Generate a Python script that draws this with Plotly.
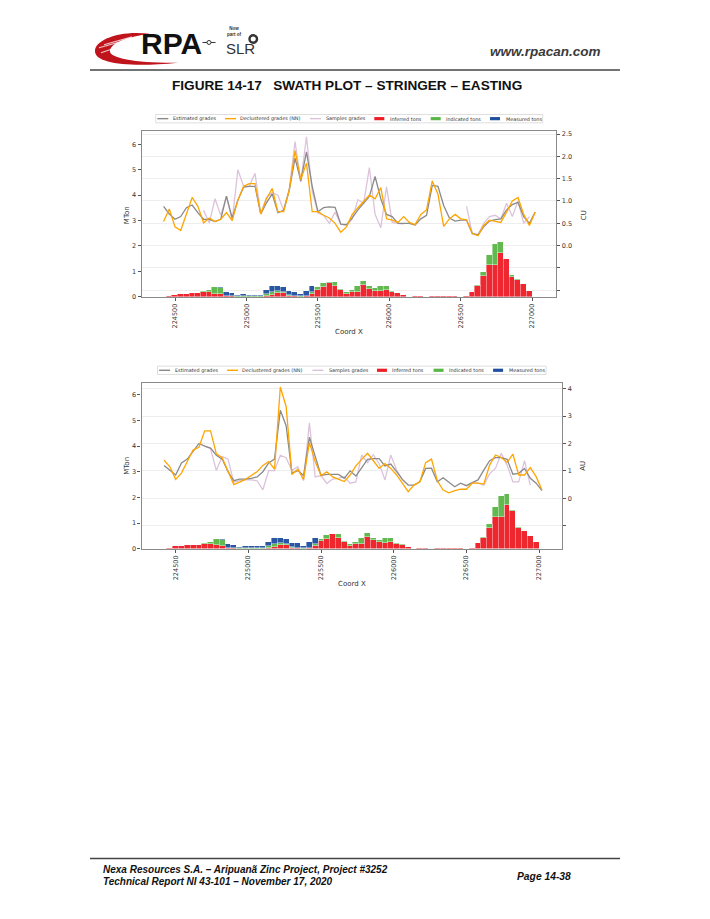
import plotly.graph_objects as go

W, H = 710, 919

# ── data ──────────────────────────────────────────────────────────────────────
coord_x = [224420, 224460, 224500, 224540, 224580, 224620, 224660, 224700, 224740, 224780,
           224820, 224860, 224900, 224940, 224980, 225020, 225060, 225100, 225140, 225180,
           225220, 225260, 225300, 225340, 225380, 225420, 225460, 225500, 225540, 225580,
           225620, 225660, 225700, 225740, 225780, 225820, 225860, 225900, 225940, 225980,
           226020, 226060, 226100, 226140, 226180, 226220, 226260, 226300, 226340, 226380,
           226420, 226460, 226500, 226540, 226580, 226620, 226660, 226700, 226740, 226780,
           226820, 226860, 226900, 226940, 226980, 227020]

inferred_t = [0, .05, .09, .12, .13, .14, .16, .18, .18, .13,
              .12, .02, .02, .01, .01, .01, .01, .01, .04, .08,
              .16, .15, .03, .02, .01, .03, .12, .29, .40, .56,
              .42, .28, .10, .18, .20, .45, .33, .25, .24, .28,
              .18, .14, .06, 0, .02, .02, 0, .03, .03, .03,
              .03, .02, .01, .05, .21, .43, .81, 1.24, 1.25, 1.72,
              1.47, .80, .68, .50, .25, 0]
indicated_t = [0, 0, 0, 0, 0, 0, 0, .04, .10, .25,
               .22, .03, .02, .02, .01, .01, .01, .01, .06, .10,
               .06, .05, .03, .01, .01, .02, .08, .09, .15, .02,
               .16, .03, .10, .10, .23, .17, .08, .11, .18, .15,
               .06, .03, 0, 0, 0, 0, 0, 0, 0, 0,
               0, 0, 0, 0, 0, .03, .17, .41, .82, .43,
               .03, .05, .01, 0, 0, 0]
measured_t = [0, 0, 0, 0, 0, 0, 0, 0, 0, 0,
              .06, .13, .12, .04, .08, .07, .07, .07, .16, .26,
              .20, .19, .18, .18, .10, .20, .22, 0, 0, 0,
              0, 0, 0, 0, 0, 0, 0, 0, 0, 0,
              0, 0, 0, 0, 0, 0, 0, 0, 0, 0,
              0, 0, 0, 0, 0, 0, 0, 0, 0, 0,
              0, 0, 0, 0, 0, 0]

# CU grades (top chart)
est_cu = [.88, .71, .59, .65, .85, .91, .74, .59, .59, .54,
          .59, 1.11, .62, 1.02, 1.31, 1.33, 1.33, .71, .96, 1.16,
          .74, .79, 1.25, 1.96, 1.45, 2.10, 1.33, .76, .85, .87,
          .86, .48, .47, .62, .80, .95, 1.10, 1.55, 1.05, .70,
          .65, .50, .50, .50, .46, .60, .68, 1.35, 1.33, .90,
          .62, .55, .57, .57, .27, .24, .42, .55, .58, .60,
          .80, .92, .97, .65, .50, .75]
decl_cu = [.54, .82, .42, .34, .71, 1.08, .88, .51, .62, .54,
           .59, .74, .56, 1.02, 1.33, 1.39, 1.39, .71, 1.05, 1.28,
           .76, .76, 1.25, 2.13, 1.48, 1.85, .76, .76, .68, .62,
           .50, .30, .42, .70, .85, 1.00, 1.13, 1.05, 1.30, .60,
           .57, .52, .65, .52, .47, .70, .80, 1.45, 1.15, .43,
           .60, .70, .60, .58, .27, .22, .45, .57, .55, .52,
           .75, 1.00, 1.08, .70, .45, .75]
samp_cu = [None, None, None, None, None, None, None, .79, .51, 1.05,
           .68, 1.11, .56, 1.70, 1.33, 1.33, 1.62, .71, 1.08, 1.19,
           1.13, .79, 1.28, 2.33, 1.42, 2.44, 1.22, .73, .68, .50,
           .75, .48, .45, .60, 1.03, .95, 1.75, .70, .40, 1.32,
           .52, .50, .48, None, None, None, None, None, None, None,
           None, None, None, .88, .27, .25, .50, .65, .68, .60,
           .95, .65, 1.00, .50, .65, None]

# AU grades (bottom chart)
est_au = [1.20, 1.01, .85, 1.29, 1.43, 1.71, 2.00, 1.90, 1.83, 1.57,
          1.43, .97, .64, .70, .70, .73, .78, .97, 1.29, 1.43,
          3.21, 2.65, .92, 1.01, .83, 2.23, 1.48, .83, .87, .87,
          .87, .73, 1.00, .81, 1.10, 1.42, 1.45, 1.45, 1.18, 1.25,
          .97, .69, .48, .48, .60, 1.09, 1.10, .60, .75, .57,
          .42, .55, .46, .57, .67, 1.03, 1.37, 1.48, 1.48, 1.42,
          .88, .91, 1.09, .73, .55, .28]
decl_au = [1.39, 1.15, .69, .92, 1.34, 1.76, 1.86, 2.46, 2.46, 1.62,
           1.48, .97, .50, .59, .69, .83, .97, 1.20, 1.34, 1.06,
           4.06, 3.35, .87, 1.06, .69, 2.04, 1.34, .83, .97, .78,
           .69, .61, .85, 1.18, 1.42, 1.64, 1.37, 1.09, 1.27, 1.09,
           .85, .55, .24, .48, .60, 1.30, 1.43, .64, .30, .20,
           .28, .33, .33, .55, .55, .52, 1.21, 1.58, 1.49, 1.31,
           1.61, .85, .85, 1.12, .79, .30]
samp_au = [None, None, None, None, None, None, None, 1.90, 1.81, 1.01,
           1.53, 1.43, .59, .64, .67, .67, .64, .31, 1.01, 1.01,
           1.57, 1.48, 1.01, 1.15, .64, 2.75, .78, .83, .54, .70,
           .73, .79, .55, .60, 1.58, 1.30, 1.58, 1.27, .67, 1.58,
           1.03, .67, .50, None, None, None, None, None, None, None,
           None, None, None, .55, .55, .48, .90, 1.09, 1.64, 1.21,
           .60, .60, 1.37, .48, None, None]

x_ticks = [224500, 225000, 225500, 226000, 226500, 227000]
x_tick_text = ["224500", "225000", "225500", "226000", "226500", "227000"]
legend_labels = ["Estimated grades", "Declustered grades (NN)", "Samples grades",
                 "Inferred tons", "Indicated tons", "Measured tons"]

# ── styling ───────────────────────────────────────────────────────────────────
C_EST, C_DECL, C_SAMP = "#8a8a8a", "#ffa500", "#dcc3dc"
C_INF, C_IND, C_MEA = "#ee1c25", "#5ab646", "#1f4f9f"
SPINE = "#8a8a8a"
AX_FONT = dict(family="DejaVu Sans", size=6.5, color="#333")
HDR = "Liberation Sans, Arial, sans-serif"


def px(x):
    return x / W


def py(y):
    return 1 - y / H


fig = go.Figure()

# ── traces ────────────────────────────────────────────────────────────────────
panels = [
    ("x", "y", "y2", est_cu, decl_cu, samp_cu),
    ("x2", "y3", "y4", est_au, decl_au, samp_au),
]
for xa, ya_bar, ya_line, est, decl, samp in panels:
    for vals, col in [(inferred_t, C_INF), (indicated_t, C_IND), (measured_t, C_MEA)]:
        fig.add_trace(go.Bar(
            x=coord_x, y=vals, width=40, xaxis=xa, yaxis=ya_bar,
            marker=dict(color=col, line=dict(color="rgba(255,255,255,0.8)", width=0.5)),
            opacity=0.95, showlegend=False, hoverinfo="skip",
        ))
    for vals, col in [(samp, C_SAMP), (est, C_EST), (decl, C_DECL)]:
        fig.add_trace(go.Scatter(
            x=coord_x, y=vals, mode="lines", xaxis=xa, yaxis=ya_line,
            line=dict(color=col, width=1.3), showlegend=False, hoverinfo="skip",
        ))

# ── axes ──────────────────────────────────────────────────────────────────────
common_x = dict(tickvals=x_ticks, ticktext=x_tick_text, tickangle=-90, ticks="outside",
                ticklen=3, tickcolor="#555", tickfont=AX_FONT, showline=True, mirror=True,
                linecolor=SPINE, linewidth=1.3, showgrid=False, zeroline=False)
common_y = dict(tickvals=[0, 1, 2, 3, 4, 5, 6], ticks="outside", ticklen=3,
                tickcolor="#555", tickfont=AX_FONT, showline=True, linecolor=SPINE,
                linewidth=1.3, showgrid=False, zeroline=False)
common_r = dict(side="right", ticks="outside", ticklen=3, tickcolor="#555",
                tickfont=AX_FONT, showline=True, linecolor=SPINE, linewidth=1.3,
                showgrid=True, gridcolor="#eeeeee", gridwidth=1, zeroline=False)

fig.update_layout(
    xaxis=dict(domain=[px(141.7), px(556.3)], anchor="y",
               range=[224267, 227168], **common_x),
    yaxis=dict(domain=[py(297.5), py(130.7)], anchor="x", range=[0, 6.52], **common_y),
    yaxis2=dict(overlaying="y", anchor="x", range=[-1.15, 2.57],
                tickvals=[-1, -0.5, 0, 0.5, 1, 1.5, 2, 2.5],
                ticktext=["", "", "0.0", "0.5", "1.0", "1.5", "2.0", "2.5"], **common_r),
    xaxis2=dict(domain=[px(141.5), px(562.3)], anchor="y3",
                range=[224265, 227160], **common_x),
    yaxis3=dict(domain=[py(550.7), py(384)], anchor="x2", range=[0, 6.47], **common_y),
    yaxis4=dict(overlaying="y3", anchor="x2", range=[-1.84, 4.21],
                tickvals=[-1, 0, 1, 2, 3, 4], ticktext=["", "0", "1", "2", "3", "4"],
                **common_r),
    barmode="stack", bargap=0,
    width=W, height=H, margin=dict(l=0, r=0, t=0, b=0),
    paper_bgcolor="white", plot_bgcolor="white",
)

shapes = []
annos = []


def txt(x, y, s, size, color="#222", family=HDR, xanchor="center", angle=0, **kw):
    annos.append(dict(x=px(x), y=py(y), xref="paper", yref="paper", text=s,
                      showarrow=False, xanchor=xanchor, yanchor="middle",
                      textangle=angle, font=dict(family=family, size=size, color=color), **kw))


def path(cmds):
    out = []
    for c, pts in cmds:
        out.append(c + " " + " ".join(f"{px(a):.5f},{py(b):.5f}" for a, b in pts))
    return " ".join(out) + " Z"


# ── axis titles ───────────────────────────────────────────────────────────────
for yc, right_lbl, xr in [(215, "CU", 584.3), (467, "AU", 583.3)]:
    txt(127.3, yc, "MTon", 7, "#333", "DejaVu Sans", angle=-90)
    txt(xr, yc, right_lbl, 7, "#333", "DejaVu Sans", angle=-90)
txt(348.5, 333.3, "Coord X", 7, "#333", "DejaVu Sans")
txt(351.5, 586, "Coord X", 7, "#333", "DejaVu Sans")

# ── legends (drawn by hand, matplotlib-style boxes) ───────────────────────────
leg_items = [("line", C_EST, 1.6, 15.3), ("line", C_DECL, 69.3, 82.6),
             ("line", C_SAMP, 154.3, 168.6), ("rect", C_INF, 218.6, 232),
             ("rect", C_IND, 275, 288.6), ("rect", C_MEA, 334.3, 348.3)]
for x0, x1, yc in [(155.7, 542.7, 118.3), (157.5, 546, 371.3)]:
    s = (x1 - x0) / 387.0
    shapes.append(dict(type="rect", xref="paper", yref="paper", x0=px(x0), x1=px(x1),
                       y0=py(yc + 4.2), y1=py(yc - 4.2), line=dict(color="#d6d6d6", width=0.8),
                       fillcolor="white", layer="above"))
    for (kind, col, sx, tx), lab in zip(leg_items, legend_labels):
        a = x0 + sx * s
        if kind == "line":
            shapes.append(dict(type="line", xref="paper", yref="paper", x0=px(a), x1=px(a + 11),
                               y0=py(yc), y1=py(yc), line=dict(color=col, width=1.4), layer="above"))
        else:
            shapes.append(dict(type="rect", xref="paper", yref="paper", x0=px(a), x1=px(a + 10),
                               y0=py(yc + 1.6), y1=py(yc - 1.6), line=dict(width=0),
                               fillcolor=col, layer="above"))
        txt(x0 + tx * s, yc, lab, 4.9, "#333", "DejaVu Sans", xanchor="left")

# ── header ────────────────────────────────────────────────────────────────────
shapes.append(dict(type="path", xref="paper", yref="paper", layer="above",
                   path=path([("M", [(150, 33)]),
                              ("C", [(120, 29), (94, 39), (95, 51)]),
                              ("C", [(96, 63), (130, 67), (178, 62)]),
                              ("C", [(138, 62.5), (109, 58), (110, 50)]),
                              ("C", [(111, 42), (128, 36), (150, 33)])]),
                   fillcolor="#c0141c", line=dict(width=0)))
for (ax, ay), (bx, by) in [((99, 47), (146, 34)), ((101, 52), (140, 39)), ((104, 44), (132, 36))]:
    shapes.append(dict(type="line", xref="paper", yref="paper", x0=px(ax), y0=py(ay),
                       x1=px(bx), y1=py(by), line=dict(color="rgba(255,255,255,0.75)", width=1.2),
                       layer="above"))
txt(171, 42.5, "<b>RPA</b>", 30, "#111")
shapes.append(dict(type="line", xref="paper", yref="paper", x0=px(202.5), x1=px(207),
                   y0=py(41.7), y1=py(41.7), line=dict(color="#333", width=1), layer="above"))
shapes.append(dict(type="line", xref="paper", yref="paper", x0=px(211), x1=px(215.5),
                   y0=py(41.7), y1=py(41.7), line=dict(color="#333", width=1), layer="above"))
shapes.append(dict(type="circle", xref="paper", yref="paper", x0=px(207), x1=px(211),
                   y0=py(43.7), y1=py(39.7), line=dict(color="#333", width=1), layer="above"))
txt(225, 31, "<b>Now<br>part of</b>", 4.5, "#333", xanchor="left")
txt(223.5, 47.5, "SLR", 15, "#333", xanchor="left")
shapes.append(dict(type="circle", xref="paper", yref="paper", x0=px(249.5), x1=px(257),
                   y0=py(42), y1=py(34.5), line=dict(color="#333", width=2.4),
                   fillcolor="white", layer="above"))
txt(545, 50.5, "<b><i>www.rpacan.com</i></b>", 13.5, "#3a3a3a")
shapes.append(dict(type="line", xref="paper", yref="paper", x0=px(90), x1=px(620),
                   y0=py(69.3), y1=py(69.3), line=dict(color="#444", width=1.5)))
txt(346.7, 85.3, "<b>FIGURE 14-17\u00a0\u00a0\u00a0SWATH PLOT \u2013 STRINGER \u2013 EASTING</b>",
    13.6, "#111")

# ── footer ────────────────────────────────────────────────────────────────────
shapes.append(dict(type="line", xref="paper", yref="paper", x0=px(90), x1=px(620),
                   y0=py(862.3), y1=py(862.3), line=dict(color="#444", width=1.5)))
txt(100.7, 873.6, "<b><i>Nexa Resources S.A. \u2013 Aripuan\u00e3 Zinc Project, Project #3252</i></b>",
    10, "#111", xanchor="left")
txt(100.7, 885.4, "<b><i>Technical Report NI 43-101 \u2013 November 17, 2020</i></b>",
    10, "#111", xanchor="left")
txt(573, 880.5, "<b><i>Page 14-38</i></b>", 10.3, "#111", xanchor="right")

fig.update_layout(shapes=shapes, annotations=annos)
# the page body has an 8px default margin; remove it so the figure sits at 0,0
fig.write_html("out.html", config={"displayModeBar": False},
               post_script="document.body.style.margin='0';")
